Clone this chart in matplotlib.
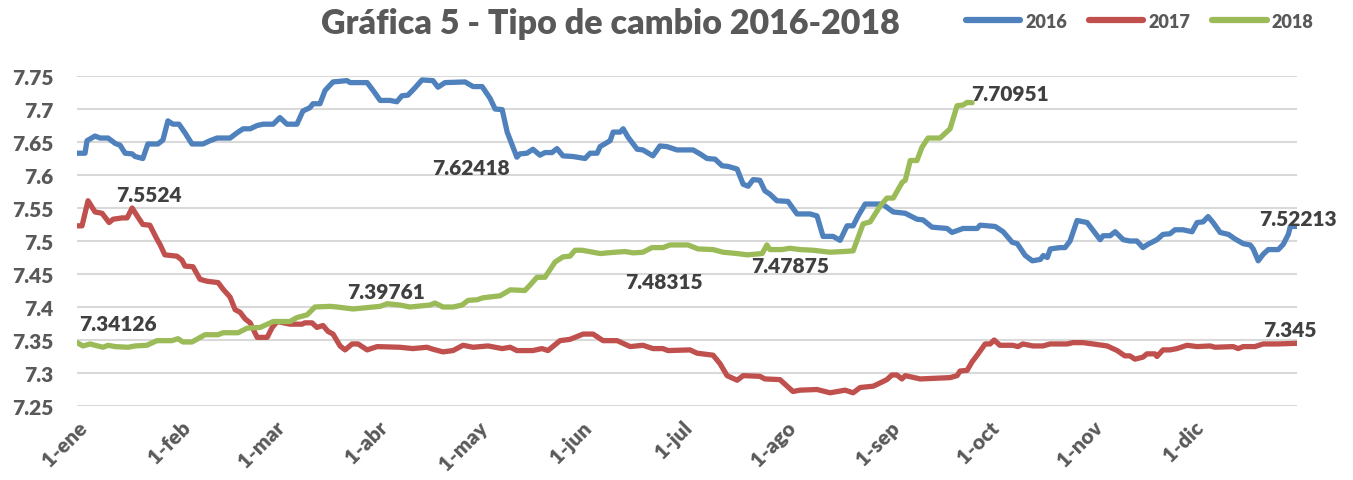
import matplotlib
matplotlib.use("Agg")
import matplotlib.pyplot as plt

# day of year (1-ene = 0) and exchange rate
days_2016 = [0, 2.4, 3, 5.4, 6.9, 9.3, 11.4, 12.9, 14.4, 16.5, 17.4, 19.7, 21.2, 24.2, 25.7,
             27.2, 28.7, 30.5, 32.3, 34.4, 37.7, 39.8, 41.9, 45.8, 47.9, 49.7, 51.8, 53.9,
             55.7, 58.7, 60.7, 62.8, 65.8, 67.6, 69.7, 70.6, 72.7, 74.2, 76.6, 80.8, 81.7,
             86.8, 88.6, 90.7, 93.6, 95.7, 97.2, 99.0, 101.1, 103.2, 106.5, 108.0, 110.1,
             116.1, 118.5, 121.2, 123.6, 125.1, 127.2, 128.7, 131.6, 132.5, 134.6, 136.4,
             138.5, 140.0, 142.1, 143.6, 145.4, 148.4, 152.0, 153.5, 155.6, 156.5, 159.5,
             160.4, 162.5, 163.4, 164.9, 167.6, 169.3, 172.3, 174.4, 176.5, 179.5, 184.3,
             186.4, 188.5, 190.9, 193.0, 194.8, 197.5, 199.3, 200.8, 202.3, 204.3, 205.8,
             207.3, 209.4, 212.7, 215.4, 219.3, 221.4, 223.2, 226.2, 228.3, 230.4, 232.2,
             233.7, 235.8, 240.3, 241.2, 244.2, 247.8, 251.3, 253.1, 255.8, 260.3, 261.8,
             265.1, 269.3, 270.2, 274.7, 277.1, 279.8, 281.3, 283.7, 285.8, 288.2, 289.1,
             290.3, 291.2, 294.1, 295.6, 297.1, 299.2, 302.2, 304.0, 306.1, 307.0, 309.1,
             310.6, 313.0, 315.0, 317.1, 318.9, 320.4, 323.1, 324.9, 327.0, 328.5, 330.9,
             333.6, 335.1, 336.9, 338.4, 339.9, 342.0, 344.5, 346.5, 348.9, 351.0, 351.9,
             353.4, 354.9, 356.4, 359.4, 360.9, 362.4, 363.0, 365]
rate_2016 = [7.633, 7.633, 7.652, 7.659, 7.656, 7.656, 7.648, 7.645, 7.633, 7.632, 7.628,
             7.625, 7.647, 7.647, 7.653, 7.682, 7.677, 7.677, 7.664, 7.647, 7.647, 7.652,
             7.656, 7.656, 7.664, 7.670, 7.670, 7.675, 7.677, 7.677, 7.687, 7.677, 7.677,
             7.697, 7.702, 7.708, 7.708, 7.728, 7.741, 7.743, 7.740, 7.740, 7.728, 7.713,
             7.713, 7.711, 7.720, 7.721, 7.732, 7.744, 7.743, 7.733, 7.740, 7.741, 7.734,
             7.734, 7.716, 7.700, 7.699, 7.665, 7.627, 7.632, 7.633, 7.639, 7.630, 7.634,
             7.634, 7.640, 7.629, 7.628, 7.625, 7.633, 7.633, 7.643, 7.652, 7.665, 7.665,
             7.670, 7.657, 7.639, 7.638, 7.629, 7.644, 7.643, 7.638, 7.638, 7.632, 7.625,
             7.624, 7.614, 7.613, 7.609, 7.586, 7.583, 7.593, 7.592, 7.576, 7.571, 7.561,
             7.560, 7.541, 7.541, 7.538, 7.507, 7.507, 7.501, 7.523, 7.523, 7.538, 7.556,
             7.556, 7.555, 7.544, 7.542, 7.533, 7.532, 7.521, 7.519, 7.513, 7.519, 7.519,
             7.524, 7.522, 7.514, 7.498, 7.496, 7.478, 7.470, 7.472, 7.478, 7.475, 7.488,
             7.490, 7.490, 7.500, 7.531, 7.528, 7.516, 7.502, 7.508, 7.508, 7.514, 7.502,
             7.500, 7.500, 7.490, 7.495, 7.502, 7.510, 7.511, 7.517, 7.517, 7.514, 7.528,
             7.529, 7.537, 7.528, 7.513, 7.510, 7.503, 7.496, 7.494, 7.488, 7.470, 7.480,
             7.487, 7.487, 7.495, 7.510, 7.522, 7.522]

days_2017 = [0, 1.5, 3.3, 5.4, 7.5, 9.6, 10.8, 13.5, 15.0, 16.5, 18.0, 19.7, 21.8, 23.9,
             24.8, 26.3, 29.9, 31.4, 32.3, 34.7, 36.8, 38.9, 42.2, 43.7, 45.8, 47.3, 48.8,
             50.3, 51.8, 53.9, 56.9, 58.4, 59.9, 63.7, 67.3, 68.2, 70.3, 71.8, 73.6, 75.1,
             76.6, 78.7, 80.2, 82.3, 84.1, 86.8, 89.8, 96.6, 100.5, 104.7, 106.5, 109.5,
             112.5, 115.5, 118.5, 123.0, 127.2, 129.6, 131.6, 136.4, 139.1, 140.9, 144.5,
             147.5, 149.0, 151.4, 154.4, 157.4, 161.6, 165.5, 169.3, 172.3, 175.3, 176.8,
             183.4, 185.5, 190.3, 192.4, 194.5, 197.5, 199.3, 204.3, 205.8, 210.3, 214.2,
             216.3, 221.4, 225.3, 229.8, 232.2, 234.3, 238.2, 240.3, 242.3, 243.8, 245.3,
             246.8, 247.8, 252.3, 261.2, 263.3, 264.2, 266.3, 267.8, 269.3, 271.7, 273.2,
             274.4, 276.1, 280.0, 281.5, 283.0, 286.0, 289.0, 291.1, 296.2, 298.0, 301.0,
             304.0, 308.2, 311.2, 313.5, 315.0, 316.5, 318.9, 320.1, 322.5, 323.1, 324.9,
             327.0, 329.1, 332.1, 335.1, 339.0, 340.5, 345.9, 347.4, 348.9, 352.4, 354.9,
             359.0, 365]
rate_2017 = [7.523, 7.523, 7.561, 7.544, 7.542, 7.528, 7.533, 7.535, 7.535, 7.550, 7.538,
             7.525, 7.524, 7.503, 7.495, 7.479, 7.477, 7.471, 7.462, 7.461, 7.442, 7.439,
             7.437, 7.427, 7.415, 7.396, 7.392, 7.382, 7.376, 7.354, 7.354, 7.369, 7.378,
             7.374, 7.374, 7.376, 7.376, 7.369, 7.372, 7.363, 7.359, 7.341, 7.335, 7.344,
             7.344, 7.335, 7.340, 7.339, 7.337, 7.339, 7.336, 7.332, 7.334, 7.342, 7.339,
             7.341, 7.337, 7.339, 7.334, 7.334, 7.337, 7.334, 7.349, 7.351, 7.354, 7.359,
             7.359, 7.349, 7.349, 7.340, 7.342, 7.337, 7.337, 7.334, 7.335, 7.330, 7.327,
             7.314, 7.296, 7.289, 7.296, 7.295, 7.291, 7.290, 7.272, 7.274, 7.275, 7.270,
             7.274, 7.270, 7.278, 7.280, 7.285, 7.290, 7.297, 7.297, 7.291, 7.296, 7.291,
             7.293, 7.296, 7.303, 7.304, 7.317, 7.327, 7.344, 7.344, 7.350, 7.342, 7.342,
             7.340, 7.344, 7.341, 7.341, 7.344, 7.344, 7.346, 7.346, 7.344, 7.341, 7.334,
             7.326, 7.326, 7.321, 7.324, 7.329, 7.329, 7.325, 7.335, 7.335, 7.337, 7.342,
             7.340, 7.341, 7.339, 7.340, 7.337, 7.340, 7.340, 7.344, 7.344, 7.345]

days_2018 = [0, 1.8, 3.9, 5.4, 7.8, 9.3, 11.4, 15.3, 17.4, 20.9, 23.9, 28.4, 30.2, 31.7,
             34.4, 38.3, 42.2, 43.7, 48.2, 50.9, 54.8, 58.7, 63.7, 65.8, 68.8, 71.2, 75.7,
             77.8, 82.6, 90.7, 92.8, 96.6, 99.6, 105.6, 107.1, 109.5, 112.5, 115.2, 117.0,
             119.7, 121.5, 126.6, 129.6, 134.0, 135.5, 137.6, 140.0, 143.0, 145.4, 147.5,
             149.0, 151.1, 154.4, 156.5, 161.0, 164.0, 166.4, 169.3, 172.0, 175.3, 177.4,
             182.8, 185.8, 190.3, 193.3, 197.5, 200.5, 205.0, 206.4, 207.3, 210.9, 213.3,
             216.3, 220.2, 225.3, 229.2, 232.2, 235.2, 237.3, 240.3, 242.3, 244.2, 246.9,
             247.8, 249.3, 251.3, 252.8, 254.6, 258.2, 261.2, 263.3, 265.1, 266.3, 267.8]
rate_2018 = [7.346, 7.341, 7.344, 7.342, 7.339, 7.342, 7.340, 7.339, 7.341, 7.342, 7.349,
             7.349, 7.352, 7.347, 7.347, 7.358, 7.358, 7.361, 7.361, 7.368, 7.369, 7.378,
             7.378, 7.384, 7.388, 7.400, 7.401, 7.400, 7.397, 7.401, 7.405, 7.403, 7.400,
             7.403, 7.406, 7.400, 7.400, 7.403, 7.410, 7.411, 7.414, 7.417, 7.426, 7.425,
             7.433, 7.445, 7.445, 7.468, 7.476, 7.477, 7.486, 7.486, 7.483, 7.481, 7.483,
             7.484, 7.482, 7.483, 7.490, 7.490, 7.494, 7.494, 7.488, 7.487, 7.483, 7.481,
             7.479, 7.481, 7.494, 7.487, 7.487, 7.489, 7.487, 7.486, 7.483, 7.484, 7.485,
             7.526, 7.529, 7.553, 7.565, 7.565, 7.589, 7.592, 7.622, 7.622, 7.642, 7.656,
             7.656, 7.670, 7.705, 7.706, 7.710, 7.7095]

month_starts = [0, 31, 59, 90, 120, 151, 181, 212, 243, 273, 304, 334]
month_labels = ["1-ene", "1-feb", "1-mar", "1-abr", "1-may", "1-jun", "1-jul",
                "1-ago", "1-sep", "1-oct", "1-nov", "1-dic"]
y_ticks = [7.25, 7.3, 7.35, 7.4, 7.45, 7.5, 7.55, 7.6, 7.65, 7.7, 7.75]
y_labels = ["7.25", "7.3", "7.35", "7.4", "7.45", "7.5", "7.55", "7.6", "7.65", "7.7", "7.75"]

# data labels: (text, day, value) as placed on the chart
labels = [("7.5524", 21.4, 7.571), ("7.62418", 117.9, 7.612), ("7.70951", 279.0, 7.7235),
          ("7.52213", 365.3, 7.534), ("7.34126", 12.1, 7.375), ("7.39761", 92.5, 7.4235),
          ("7.48315", 175.5, 7.4386), ("7.47875", 213.3, 7.463), ("7.345", 362.9, 7.366)]

plt.rcParams['font.family'] = ['Lato', 'DejaVu Sans']
grey = '#595959'

fig = plt.figure(figsize=(13.53, 4.81), dpi=100)
ax = fig.add_axes([77 / 1353, 74 / 481, 1220 / 1353, 330 / 481])

ax.plot(days_2016, rate_2016, color='#4f81bd', lw=3.8, solid_joinstyle='round',
        solid_capstyle='round', label='2016')
ax.plot(days_2017, rate_2017, color='#c0504d', lw=3.8, solid_joinstyle='round',
        solid_capstyle='round', label='2017')
ax.plot(days_2018, rate_2018, color='#9bbb59', lw=3.8, solid_joinstyle='round',
        solid_capstyle='round', label='2018')

for txt, d, v in labels:
    ax.text(d, v, txt, ha='center', va='center', fontsize=15, fontweight='heavy',
            color='#404040')

ax.set_xlim(0, 365)
ax.set_ylim(7.25, 7.75)
ax.set_yticks(y_ticks)
ax.set_yticklabels(y_labels)
ax.set_xticks(month_starts)
ax.set_xticklabels(month_labels, rotation=45, ha='right', rotation_mode='anchor')
ax.tick_params(length=0, labelsize=15, labelcolor=grey)
ax.tick_params(axis='y', pad=17)
ax.tick_params(axis='x', pad=8)
for lab in ax.get_xticklabels() + ax.get_yticklabels():
    lab.set_fontweight('heavy')

ax.grid(axis='y', color='#d9d9d9', lw=1.5)
ax.set_axisbelow(True)
for s in ax.spines.values():
    s.set_visible(False)

fig.text(610 / 1353, 1 - 24 / 481, "Gráfica 5 - Tipo de cambio 2016-2018", ha='center',
         va='center', fontsize=24.5, fontweight='heavy', color=grey)
leg = fig.legend(loc='center right', bbox_to_anchor=(1330 / 1353, 1 - 22 / 481), ncol=3,
                 frameon=False, handlelength=3.0, columnspacing=1.2, handletextpad=0.3,
                 prop={'weight': 'heavy', 'size': 13})
for t in leg.get_texts():
    t.set_color(grey)
for h in leg.get_lines():
    h.set_linewidth(4.5)

fig.savefig('out.png', dpi=100)
